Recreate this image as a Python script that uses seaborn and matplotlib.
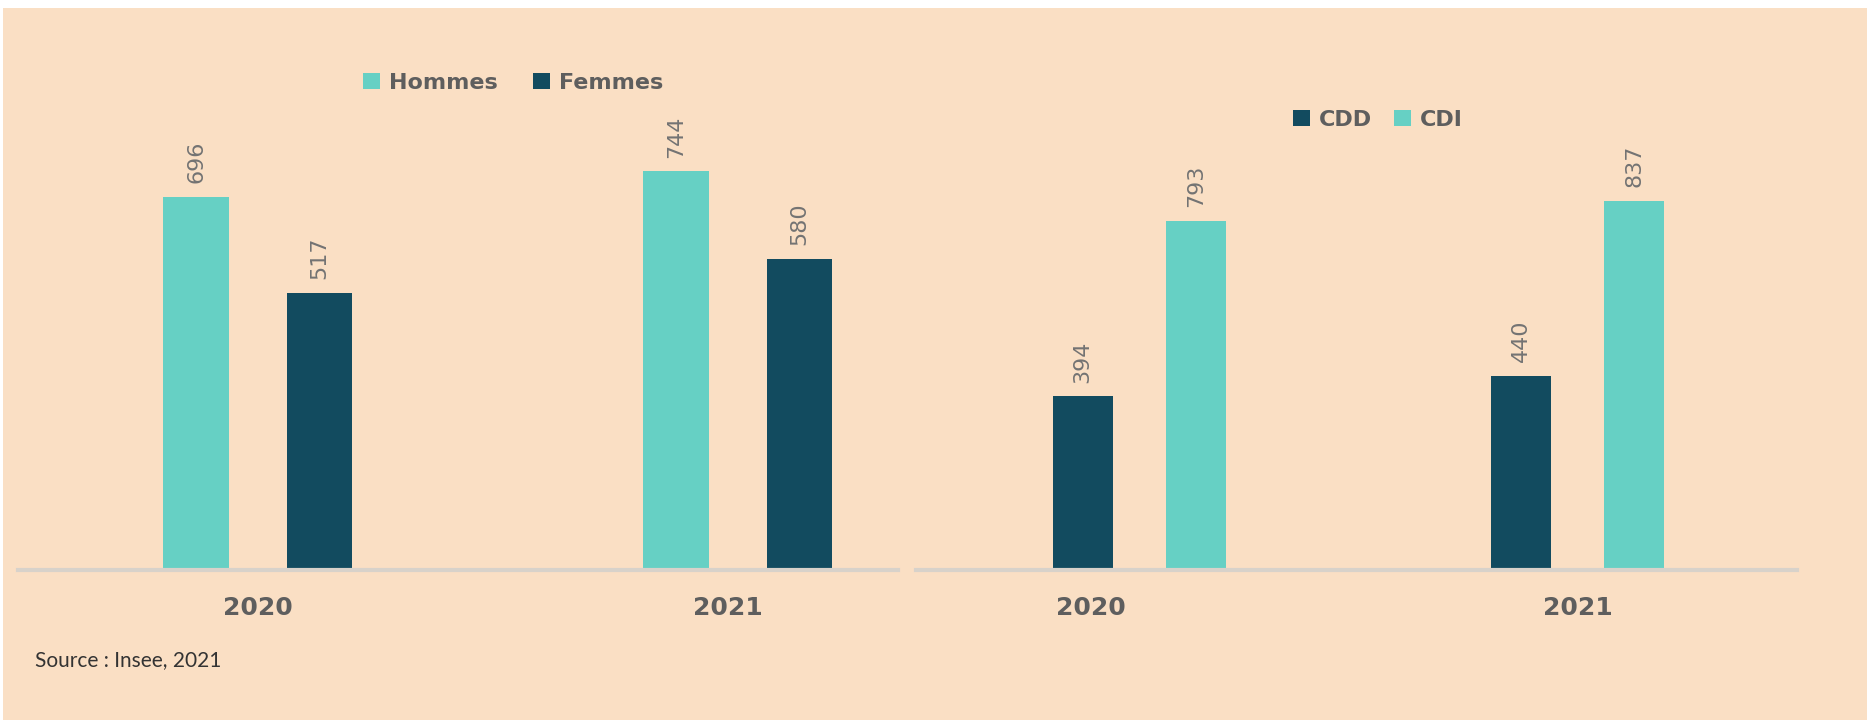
import pandas as pd
import matplotlib.pyplot as plt
import seaborn as sns
from matplotlib.patches import Rectangle

# données
annees = ["2020", "2021"]
sexe = ["Hommes", "Femmes"]
hommes = [696, 744]
femmes = [517, 580]
contrat = ["CDD", "CDI"]
cdd = [394, 440]
cdi = [793, 837]

teal = "#66D0C4"
dark = "#124B5F"
fond = "#FADFC4"
gris = "#5E5E5E"

df_sexe = pd.DataFrame({
    "annee": annees * 2,
    "groupe": [sexe[0]] * 2 + [sexe[1]] * 2,
    "valeur": hommes + femmes,
})
df_contrat = pd.DataFrame({
    "annee": annees * 2,
    "groupe": [contrat[0]] * 2 + [contrat[1]] * 2,
    "valeur": cdd + cdi,
})

sns.set_theme(style="white")
plt.rcParams["font.family"] = ["DejaVu Sans"]

W, H = 1867, 720
fig = plt.figure(figsize=(W / 100, H / 100), dpi=100, facecolor="white")
# fond pêche avec une fine bordure blanche en haut et à gauche
fig.patches.append(Rectangle((3 / W, 0), 1, 1 - 8 / H, transform=fig.transFigure,
                             facecolor=fond, edgecolor="none", zorder=-10))

base = 570
haut = 60
ax1 = fig.add_axes([18 / W, (H - base) / H, 880 / W, (base - haut) / H])
ax2 = fig.add_axes([916 / W, (H - base) / H, 881 / W, (base - haut) / H])

sns.barplot(data=df_sexe, x="annee", y="valeur", hue="groupe", order=annees,
            hue_order=sexe, palette=[teal, dark], width=0.515, gap=0.47,
            saturation=1, linewidth=0, ax=ax1)
sns.barplot(data=df_contrat, x="annee", y="valeur", hue="groupe", order=annees,
            hue_order=contrat, palette=[dark, teal], width=0.515, gap=0.47,
            saturation=1, linewidth=0, ax=ax2)

ax1.set_xlim(-0.5, 1.334)
ax1.set_ylim(0, 952)
ax2.set_xlim(-0.509, 1.50)
ax2.set_ylim(0, 1158)

# dans l'original, l'étiquette 2020 de droite est un peu décalée vers la gauche
ax1.set_xticks([0, 0.98], annees)
ax2.set_xticks([-0.11, 0], annees)
ax2.set_xticks([-0.11, 1], annees)

for ax in (ax1, ax2):
    ax.set_facecolor("none")
    for c in ax.containers:
        ax.bar_label(c, rotation=90, padding=10, fontsize=16, color="#737373")
    for s in ["top", "left", "right"]:
        ax.spines[s].set_visible(False)
    ax.spines["bottom"].set_color("#D8D2CA")
    ax.spines["bottom"].set_linewidth(3)
    ax.set_xlabel("")
    ax.set_ylabel("")
    ax.set_yticks([])
    ax.tick_params(axis="x", length=0, pad=19)
    for t in ax.get_xticklabels():
        t.set_fontsize(18)
        t.set_fontweight("bold")
        t.set_color(gris)

leg1 = ax1.legend(loc="center left", bbox_to_anchor=(352 / W, 1 - 83 / H),
                  bbox_transform=fig.transFigure, ncol=2, frameon=False,
                  handlelength=0.75, handleheight=0.75, handletextpad=0.4,
                  columnspacing=1.6, borderpad=0, prop={"size": 16, "weight": "bold"})
for t in leg1.get_texts():
    t.set_color(gris)

leg2 = ax2.legend(loc="center left", bbox_to_anchor=(1282 / W, 1 - 120 / H),
                  bbox_transform=fig.transFigure, ncol=2, frameon=False,
                  handlelength=0.75, handleheight=0.75, handletextpad=0.4,
                  columnspacing=1.0, borderpad=0, prop={"size": 16, "weight": "semibold"})
for t in leg2.get_texts():
    t.set_color(gris)

fig.text(35 / W, 1 - 660 / H, "Source : Insee, 2021", fontsize=15,
         color="#333333", va="center", family="Lato")

fig.savefig("out.png", dpi=100, facecolor=fig.get_facecolor())
